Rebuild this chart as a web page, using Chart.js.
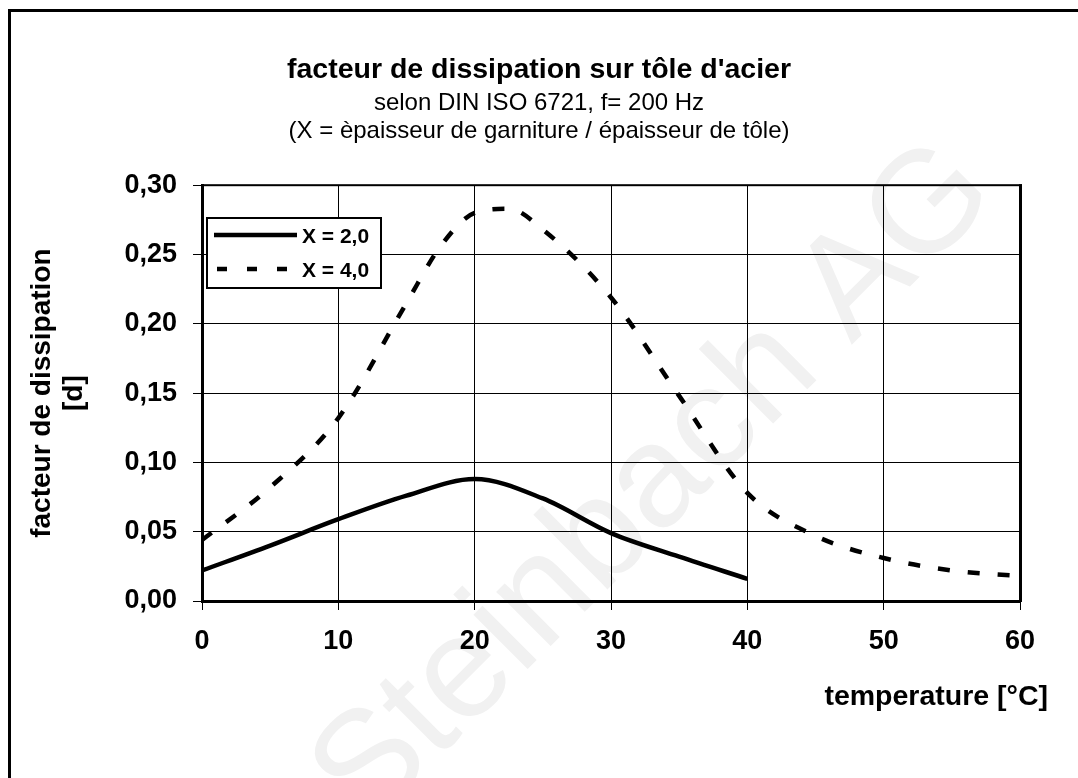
<!DOCTYPE html>
<html>
<head>
<meta charset="utf-8">
<script src="https://cdn.jsdelivr.net/npm/chart.js@4/dist/chart.umd.min.js"></script>
<style>
  html, body { margin: 0; padding: 0; background: #fff; }
  #wrap { width: 1078px; height: 778px; }
</style>
</head>
<body>
<div id="wrap"><canvas id="dissChart"></canvas></div>
<script>
// valeurs
const temps2 = [0, 5, 10, 15, 20, 25, 30, 35, 40];
const values2 = [0.022, 0.040, 0.059, 0.076, 0.088, 0.074, 0.049, 0.032, 0.016];
const temps4 = [0, 5, 10, 15, 17.5, 20, 22.5, 25, 30, 35, 40, 45, 50, 55, 60];
const values4 = [0.044, 0.082, 0.132, 0.215, 0.256, 0.280, 0.283, 0.268, 0.219, 0.148, 0.078, 0.047, 0.031, 0.022, 0.018];
const seriesLabels = ['X = 2,0', 'X = 4,0'];
const xTicks = [0, 10, 20, 30, 40, 50, 60];
const yTicks = [0, 0.05, 0.10, 0.15, 0.20, 0.25, 0.30];

const FONT = "'Liberation Sans', Arial, Helvetica, sans-serif";
const DASH = [12, 18];

function toPoints(xs, ys) {
    return xs.map((x, i) => ({ x: x, y: ys[i] }));
}

// filigrane, cadre, bordures du graphique, titre de l'axe x et légende
const decorPlugin = {
    id: 'decor',
    beforeDraw(chart) {
        const c = chart.ctx;
        c.save();
        c.translate(655, 485);
        c.rotate(-45 * Math.PI / 180);
        c.font = '145px ' + FONT;
        c.fillStyle = '#f1f1f1';
        c.textAlign = 'center';
        c.textBaseline = 'middle';
        c.fillText('Steinbach AG', 0, 0);
        c.restore();
    },
    afterDatasetsDraw(chart) {
        const c = chart.ctx;
        const a = chart.chartArea;
        c.save();
        c.fillStyle = '#000';
        c.fillRect(a.left, a.top - 1, a.right - a.left + 2, 2);
        c.fillRect(a.right - 1, a.top - 1, 3, a.bottom - a.top + 2);

        // légende
        const lx = 207, ly = 218, lw = 174, lh = 70;
        c.fillStyle = '#fff';
        c.fillRect(lx, ly, lw, lh);
        c.lineWidth = 2;
        c.strokeStyle = '#000';
        c.strokeRect(lx, ly, lw, lh);
        const rows = [ly + 17, ly + 51];
        chart.data.datasets.forEach((ds, i) => {
            c.beginPath();
            c.lineWidth = 4.5;
            c.setLineDash(ds.borderDash ? [10, 20] : []);
            c.moveTo(i === 0 ? lx + 7 : lx + 10, rows[i]);
            c.lineTo(lx + 90, rows[i]);
            c.stroke();
            c.setLineDash([]);
            c.fillStyle = '#000';
            c.font = 'bold 21px ' + FONT;
            c.textAlign = 'left';
            c.textBaseline = 'middle';
            c.fillText(ds.label, lx + 95, rows[i] + 2);
        });
        c.restore();
    },
    afterDraw(chart) {
        const c = chart.ctx;
        c.save();
        c.fillStyle = '#000';
        c.fillRect(8, 9, 1078, 3);
        c.fillRect(8, 9, 3, 778);
        c.font = 'bold 28.5px ' + FONT;
        c.textAlign = 'right';
        c.textBaseline = 'alphabetic';
        c.fillText('temperature [°C]', 1048, 705);
        c.restore();
    }
};

const ctx = document.getElementById('dissChart');
new Chart(ctx, {
    type: 'line',
    data: {
        datasets: [
            {
                label: seriesLabels[0],
                data: toPoints(temps2, values2),
                borderColor: '#000',
                borderWidth: 4.5,
                pointRadius: 0,
                cubicInterpolationMode: 'monotone',
                fill: false
            },
            {
                label: seriesLabels[1],
                data: toPoints(temps4, values4),
                borderColor: '#000',
                borderWidth: 4.5,
                borderDash: DASH,
                pointRadius: 0,
                cubicInterpolationMode: 'monotone',
                fill: false
            }
        ]
    },
    options: {
        responsive: true,
        maintainAspectRatio: false,
        animation: false,
        events: [],
        layout: { padding: { left: 58, right: 58, top: 0, bottom: 0 } },
        plugins: {
            legend: { display: false },
            tooltip: { enabled: false },
            title: {
                display: true,
                text: "facteur de dissipation sur tôle d'acier",
                color: '#000',
                font: { family: FONT, size: 28.5, weight: 'bold', lineHeight: 1.2 },
                padding: { top: 53, bottom: 2 }
            },
            subtitle: {
                display: true,
                text: ['selon DIN ISO 6721, f= 200 Hz', '(X = èpaisseur de garniture / épaisseur de tôle)'],
                color: '#000',
                font: { family: FONT, size: 24, weight: 'normal', lineHeight: '28px' },
                padding: { top: 0, bottom: 40 }
            }
        },
        scales: {
            x: {
                type: 'linear',
                min: 0,
                max: 60,
                afterBuildTicks: s => { s.ticks = xTicks.map(v => ({ value: v })); },
                afterFit: s => { s.height = 177; },
                ticks: {
                    color: '#000',
                    font: { family: FONT, size: 27, weight: 'bold' },
                    padding: 15,
                    maxRotation: 0,
                    callback: v => String(v)
                },
                grid: { color: '#000', lineWidth: 1, tickLength: 9 },
                border: { color: '#000', width: 3 }
            },
            y: {
                type: 'linear',
                min: 0,
                max: 0.3,
                afterBuildTicks: s => { s.ticks = yTicks.map(v => ({ value: v })); },
                afterFit: s => { s.width = 144; },
                ticks: {
                    color: '#000',
                    font: { family: FONT, size: 27, weight: 'bold' },
                    padding: 16,
                    callback: v => v.toFixed(2).replace('.', ',')
                },
                grid: { color: '#000', lineWidth: 1, tickLength: 9 },
                border: { color: '#000', width: 3 },
                title: {
                    display: true,
                    text: ['facteur de dissipation', '[d]'],
                    color: '#000',
                    font: { family: FONT, size: 28, weight: 'bold', lineHeight: '32px' },
                    padding: { top: -32, bottom: 0 }
                }
            }
        }
    },
    plugins: [decorPlugin]
});
</script>
</body>
</html>
